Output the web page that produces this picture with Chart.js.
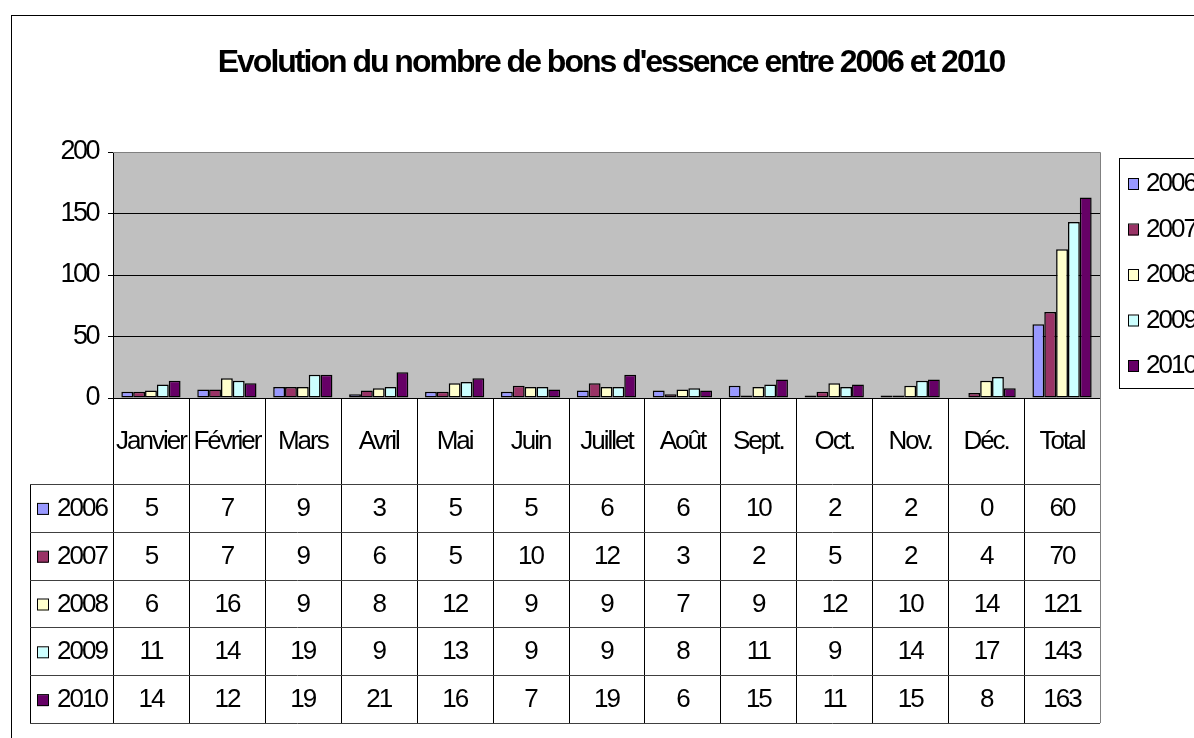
<!DOCTYPE html>
<html>
<head>
<meta charset="utf-8">
<script src="https://cdn.jsdelivr.net/npm/chart.js@4/dist/chart.umd.min.js"></script>
<style>
  html, body { margin: 0; padding: 0; background: #fff; }
  canvas { display: block; }
</style>
</head>
<body>
<canvas id="bonsChart" width="1194" height="738"></canvas>
<script>
// data
const months = ['Janvier', 'Février', 'Mars', 'Avril', 'Mai', 'Juin', 'Juillet', 'Août', 'Sept.', 'Oct.', 'Nov.', 'Déc.', 'Total'];
const years = ['2006', '2007', '2008', '2009', '2010'];
const v2006 = [5, 7, 9, 3, 5, 5, 6, 6, 10, 2, 2, 0, 60];
const v2007 = [5, 7, 9, 6, 5, 10, 12, 3, 2, 5, 2, 4, 70];
const v2008 = [6, 16, 9, 8, 12, 9, 9, 7, 9, 12, 10, 14, 121];
const v2009 = [11, 14, 19, 9, 13, 9, 9, 8, 11, 9, 14, 17, 143];
const v2010 = [14, 12, 19, 21, 16, 7, 19, 6, 15, 11, 15, 8, 163];
const yTicks = [0, 50, 100, 150, 200];

const colors = ['#9999FF', '#993366', '#FFFFCC', '#CCFFFF', '#660066'];
const series = [v2006, v2007, v2008, v2009, v2010];
const FONT = '"Liberation Sans", Arial, sans-serif';

const frameAndTable = {
    id: 'frameAndTable',
    beforeDraw(chart) {
        const c = chart.ctx, a = chart.chartArea;
        c.save();
        c.fillStyle = '#fff';
        c.fillRect(0, 0, chart.width, chart.height);
        c.fillStyle = '#C0C0C0';
        c.fillRect(a.left, a.top, a.right - a.left, a.bottom - a.top);
        c.restore();
        // condensed look of the old Excel rendering
        c.letterSpacing = '-2.5px';
    },
    afterDraw(chart) {
        const c = chart.ctx, a = chart.chartArea, x = chart.scales.x;
        c.save();
        // outer frame
        c.strokeStyle = '#000';
        c.lineWidth = 1;
        c.strokeRect(11.5, 15.5, 1300, 800);

        // title
        c.fillStyle = '#000';
        c.font = 'bold 32px ' + FONT;
        c.letterSpacing = '-2px';
        c.textAlign = 'center';
        c.textBaseline = 'alphabetic';
        c.fillText("Evolution du nombre de bons d'essence entre 2006 et 2010", 611, 72);

        // right + top plot border
        c.strokeStyle = '#808080';
        c.beginPath();
        c.moveTo(a.left, a.top + 0.5); c.lineTo(a.right + 0.5, a.top + 0.5);
        c.lineTo(a.right + 0.5, a.bottom);
        c.stroke();

        // data table
        const colW = (a.right - a.left) / months.length;
        const headBottom = 484, rowH = 47.8, tableLeft = 30;
        const tableBottom = headBottom + rowH * years.length;
        c.strokeStyle = '#000';
        c.beginPath();
        for (let i = 0; i < months.length; i++) {
            const xl = Math.round(a.left + i * colW) + 0.5;
            c.moveTo(xl, a.bottom); c.lineTo(xl, tableBottom);
        }
        c.moveTo(tableLeft + 0.5, headBottom); c.lineTo(tableLeft + 0.5, tableBottom);
        c.stroke();
        c.strokeStyle = '#404040';
        c.beginPath();
        for (let r = 0; r <= years.length; r++) {
            const y = Math.round(headBottom + r * rowH) + 0.5;
            c.moveTo(tableLeft, y); c.lineTo(a.right, y);
        }
        c.stroke();
        c.strokeStyle = '#808080';
        c.beginPath();
        c.moveTo(a.right + 0.5, a.bottom); c.lineTo(a.right + 0.5, tableBottom);
        c.stroke();

        c.font = '26px ' + FONT;
        c.letterSpacing = '-2px';
        c.fillStyle = '#000';
        c.textBaseline = 'middle';
        c.textAlign = 'center';
        months.forEach((m, i) => {
            c.fillText(m, x.getPixelForValue(i), 442);
        });
        years.forEach((yr, r) => {
            const yc = headBottom + r * rowH + rowH / 2 + 1;
            c.fillStyle = colors[r];
            c.fillRect(37, yc - 5, 11, 11);
            c.strokeStyle = '#000';
            c.strokeRect(37.5, yc - 5.5, 11, 11);
            c.fillStyle = '#000';
            c.textAlign = 'left';
            c.fillText(yr, 57, yc);
            c.textAlign = 'center';
            series[r].forEach((v, i) => {
                c.fillText(String(v), x.getPixelForValue(i), yc);
            });
        });

        // legend
        c.strokeStyle = '#000';
        c.strokeRect(1119.5, 158.5, 120, 230);
        c.textAlign = 'left';
        years.forEach((yr, r) => {
            const yc = 184 + r * 45.5;
            c.fillStyle = colors[r];
            c.fillRect(1128, yc - 5, 10, 11);
            c.strokeRect(1128.5, yc - 5.5, 10, 11);
            c.fillStyle = '#000';
            c.fillText(yr, 1146, yc);
        });
        c.restore();
    }
};

const ctx = document.getElementById('bonsChart').getContext('2d');

const bonsChart = new Chart(ctx, {
    type: 'bar',
    data: {
        labels: months,
        datasets: years.map((yr, k) => ({
            label: yr,
            data: series[k],
            backgroundColor: colors[k],
            borderColor: '#000',
            borderWidth: 1.5,
            borderSkipped: false,
            categoryPercentage: 0.78,
            barPercentage: 1
        }))
    },
    options: {
        responsive: false,
        animation: false,
        devicePixelRatio: 1,
        layout: { padding: { top: 152, left: 0, right: 94, bottom: 340 } },
        plugins: {
            legend: { display: false },
            title: { display: false },
            tooltip: { enabled: false }
        },
        scales: {
            x: { display: false },
            y: {
                min: 0,
                max: 200,
                afterFit: (scale) => { scale.width = 113; },
                afterBuildTicks: (scale) => { scale.ticks = yTicks.map(v => ({ value: v })); },
                ticks: {
                    color: '#000',
                    font: { family: FONT, size: 27 },
                    padding: 10
                },
                grid: {
                    color: (g) => g.tick && g.tick.value === 200 ? '#808080' : '#000',
                    tickColor: '#000',
                    tickLength: 5,
                    lineWidth: 1
                },
                border: { display: true, color: '#000' }
            }
        }
    },
    plugins: [frameAndTable]
});
</script>
</body>
</html>
